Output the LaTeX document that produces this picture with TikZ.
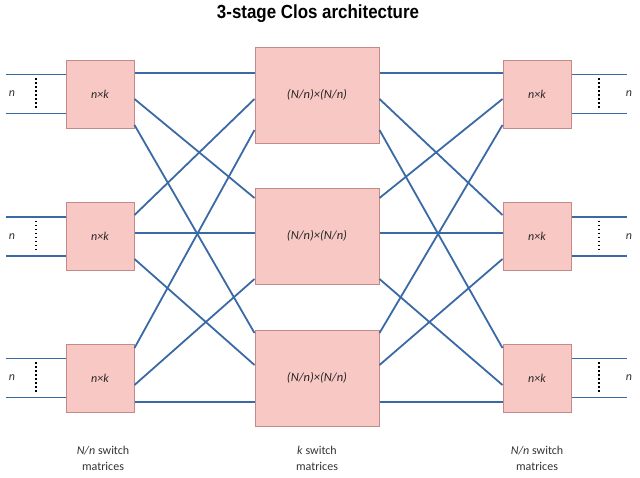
\documentclass[tikz,border=0pt]{standalone}
\usepackage{fontspec}
\setmainfont{Carlito}
\newfontfamily\titlefont{Liberation Sans}
\usetikzlibrary{calc}
\definecolor{boxfill}{HTML}{F8C8C4}
\definecolor{boxdraw}{HTML}{C48A8A}
\definecolor{wireblue}{HTML}{3A6AA5}
\tikzset{
  outerbox/.style={draw=boxdraw, fill=boxfill, line width=1pt, minimum width=68pt, minimum height=68pt, inner sep=0pt, font=\itshape\fontsize{12}{12}\selectfont, text=black!85},
  midbox/.style={draw=boxdraw, fill=boxfill, line width=1pt, minimum width=124pt, minimum height=96pt, inner sep=0pt, font=\itshape\fontsize{12.5}{12.5}\selectfont, text=black!85},
  wire/.style={draw=wireblue, line width=1.8pt},
  dots/.style={draw=black, line width=1.5pt, dash pattern=on 1.5pt off 2.5pt},
  caption/.style={align=center, font=\fontsize{12}{16}\selectfont, text=black!80},
  nlabel/.style={font=\itshape\fontsize{12}{12}\selectfont, inner sep=0pt, text=black!80}
}
\begin{document}
\begin{tikzpicture}[x=1pt, y=-1pt]
\useasboundingbox (0,0) rectangle (640,477);
% title
\node[font=\titlefont\bfseries\fontsize{19}{19}\selectfont, xscale=0.89] (title) at (318,14) {3-stage Clos architecture};
% boxes
\node[outerbox] (L1) at (100,94) {n×k};
\node[outerbox] (L2) at (100,236.5) {n×k};
\node[outerbox] (L3) at (100,378) {n×k};
\node[outerbox] (R1) at (537,94) {n×k};
\node[outerbox] (R2) at (537,236.5) {n×k};
\node[outerbox] (R3) at (537,378) {n×k};
\node[midbox] (M1) at (317,95) {(N/n)×(N/n)};
\node[midbox] (M2) at (317,236) {(N/n)×(N/n)};
\node[midbox] (M3) at (317,378) {(N/n)×(N/n)};
% left connections
\draw[wire] (L1.east |- 0,73) -- (M1.west |- 0,73);
\draw[wire] (L1.east |- 0,99) -- (M2.west |- 0,198);
\draw[wire] (L1.east |- 0,125) -- (M3.west |- 0,333);
\draw[wire] (L2.east |- 0,215) -- (M1.west |- 0,99);
\draw[wire] (L2.east |- 0,233) -- (M2.west |- 0,233);
\draw[wire] (L2.east |- 0,259) -- (M3.west |- 0,365);
\draw[wire] (L3.east |- 0,348) -- (M1.west |- 0,130);
\draw[wire] (L3.east |- 0,385) -- (M2.west |- 0,279);
\draw[wire] (L3.east |- 0,402) -- (M3.west |- 0,402);
% right connections
\draw[wire] (M1.east |- 0,73) -- (R1.west |- 0,73);
\draw[wire] (M2.east |- 0,198) -- (R1.west |- 0,99);
\draw[wire] (M3.east |- 0,333) -- (R1.west |- 0,125);
\draw[wire] (M1.east |- 0,99) -- (R2.west |- 0,215);
\draw[wire] (M2.east |- 0,233) -- (R2.west |- 0,233);
\draw[wire] (M3.east |- 0,365) -- (R2.west |- 0,259);
\draw[wire] (M1.east |- 0,130) -- (R3.west |- 0,348);
\draw[wire] (M2.east |- 0,279) -- (R3.west |- 0,385);
\draw[wire] (M3.east |- 0,402) -- (R3.west |- 0,402);
% inputs / outputs
\foreach \i/\c in {1/94, 2/236.5, 3/378} {
  \coordinate (inA\i) at (6,\c-19.5);
  \coordinate (inB\i) at (6,\c+19.5);
  \coordinate (outA\i) at (627,\c-19.5);
  \coordinate (outB\i) at (627,\c+19.5);
  \draw[wire] (inA\i) -- (L\i.west |- inA\i);
  \draw[wire] (inB\i) -- (L\i.west |- inB\i);
  \draw[wire] (R\i.east |- outA\i) -- (outA\i);
  \draw[wire] (R\i.east |- outB\i) -- (outB\i);
  \coordinate (dlT\i) at (36,\c-16);
  \coordinate (dlB\i) at (36,\c+16);
  \coordinate (drT\i) at (599,\c-16);
  \coordinate (drB\i) at (599,\c+16);
  \draw[dots] (dlT\i) -- (dlB\i);
  \draw[dots] (drT\i) -- (drB\i);
  \node[nlabel] (nl\i) at (12,\c) {n};
  \node[nlabel] (nr\i) at (629,\c) {n};
}
% captions
\node[caption] (capL) at (103,458) {\textit{N/n} switch\\matrices};
\node[caption] (capM) at (317,458) {\textit{k} switch\\matrices};
\node[caption] (capR) at (537,458) {\textit{N/n} switch\\matrices};
\end{tikzpicture}
\end{document}
